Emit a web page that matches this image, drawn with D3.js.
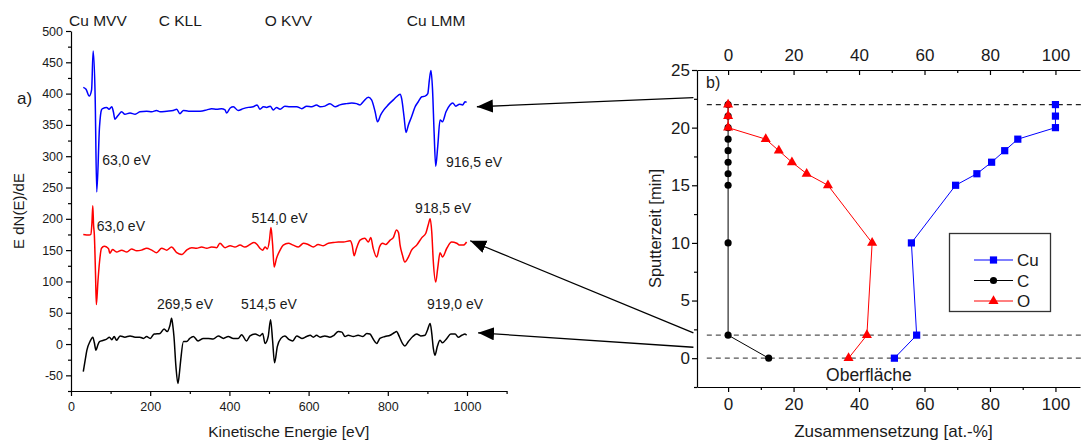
<!DOCTYPE html>
<html><head><meta charset="utf-8">
<script src="https://cdn.jsdelivr.net/npm/d3@7"></script>
<style>
html,body{margin:0;padding:0;background:#fff;}
svg{display:block;font-family:"Liberation Sans",Arial,sans-serif;}
</style></head><body>
<svg id="chart" width="1081" height="442"></svg>
<script>
// ---------- a) AES spectra: [kinetic energy eV, E dN(E)/dE] ----------
const spectrumTop = [[31,410],[38,407],[46,396],[52,406],[56,468],[61,395],[65,243],[72,347],[77,374],[80,376],[90,378],[96,375],[103,379],[107,371],[111,359],[115,362],[120,366],[128,371],[136,367],[149,369],[162,367],[174,371],[191,372],[204,371],[216,373],[225,371],[242,372],[258,373],[267,375],[275,368],[284,373],[297,372],[309,372],[326,372],[343,374],[355,376],[368,375],[380,376],[389,374],[393,369],[402,377],[410,379],[422,373],[435,376],[448,378],[460,379],[470,382],[477,375],[486,379],[494,378],[503,380],[511,374],[519,378],[528,375],[540,380],[553,379],[570,379],[583,376],[595,380],[608,379],[620,382],[629,379],[641,380],[654,384],[667,379],[679,382],[696,384],[709,385],[721,384],[730,382],[738,387],[751,394],[759,390],[768,371],[774,355],[782,366],[790,374],[801,382],[814,390],[822,395],[831,399],[835,392],[841,363],[846,338],[852,350],[860,363],[869,379],[877,387],[886,395],[894,396],[901,400],[905,422],[909,437],[913,406],[917,337],[921,284],[926,315],[932,358],[938,355],[947,371],[957,382],[964,385],[972,380],[981,383],[989,382],[995,387],[999,386]];
const spectrumMid = [[31,175],[46,174],[50,175],[53,195],[55,221],[57,190],[59,174],[62,110],[64,63],[68,100],[72,131],[77,153],[84,156],[90,155],[95,152],[98,145],[105,151],[115,147],[128,150],[141,147],[153,152],[166,149],[178,150],[191,153],[204,150],[216,146],[229,153],[242,150],[254,155],[267,146],[280,143],[292,150],[305,154],[317,153],[330,155],[343,153],[355,155],[368,154],[376,161],[389,154],[402,157],[414,155],[427,158],[439,155],[452,159],[462,162],[470,159],[477,153],[484,150],[490,155],[496,152],[501,165],[505,186],[509,160],[513,123],[519,137],[528,150],[536,158],[549,161],[561,158],[574,155],[587,161],[599,159],[612,155],[624,159],[637,157],[650,161],[662,162],[675,163],[688,163],[705,165],[710,158],[715,141],[721,153],[730,166],[742,169],[751,163],[757,170],[763,153],[772,139],[779,155],[787,161],[795,159],[806,166],[814,170],[822,182],[827,178],[831,158],[837,142],[843,131],[852,139],[860,150],[873,158],[886,170],[896,177],[902,190],[907,200],[911,179],[915,131],[921,99],[926,121],[932,146],[938,139],[949,153],[961,163],[974,161],[982,158],[991,158],[999,163]];
const spectrumLow = [[31,-44],[36,-25],[40,-10],[48,4],[55,11],[59,2],[63,-10],[67,-3],[72,4],[82,6],[90,8],[97,11],[103,7],[109,12],[115,6],[124,13],[136,11],[149,13],[162,11],[174,11],[183,9],[191,12],[200,9],[210,16],[225,17],[235,24],[243,20],[250,30],[254,41],[257,30],[260,12],[265,-36],[270,-63],[274,-45],[277,-26],[284,4],[292,4],[300,9],[309,12],[321,5],[334,9],[347,9],[359,8],[372,13],[385,9],[397,12],[410,9],[422,9],[431,15],[443,5],[452,13],[465,16],[477,13],[484,17],[490,1],[498,12],[504,39],[509,6],[514,-30],[521,-4],[530,9],[540,13],[551,7],[560,5],[570,13],[583,9],[595,12],[604,14],[612,11],[620,14],[629,11],[641,13],[654,11],[664,14],[675,20],[684,19],[692,12],[700,14],[713,12],[725,14],[737,12],[747,17],[755,16],[763,8],[772,1],[780,9],[793,12],[806,14],[816,18],[822,20],[829,12],[837,1],[843,-3],[852,4],[863,12],[873,16],[883,13],[894,14],[900,22],[907,33],[911,17],[915,-7],[919,-18],[925,-4],[932,6],[938,2],[949,9],[959,16],[970,16],[978,11],[987,14],[995,16],[999,14]];
const spectrumColors = ["#0000ff", "#ff0000", "#000000"];

const energyTicks = [0, 200, 400, 600, 800, 1000];
const energyMinor = [100, 300, 500, 700, 900, 1100];
const signalTicks = [-50, 0, 50, 100, 150, 200, 250, 300, 350, 400, 450, 500];
const signalMinor = [-75, -25, 25, 75, 125, 175, 225, 275, 325, 375, 425, 475];

// transition groups written across the top of the spectra
const transitionNames = ["Cu MVV", "C KLL", "O KVV", "Cu LMM"];
const transitionEnergy = [68, 276, 549, 922];

// peak labels: [energy at text start, signal at baseline, text, spectrum index]
const peakLabels = [
  [79, 286, "63,0 eV", 0], [947, 283, "916,5 eV", 0],
  [65, 181, "63,0 eV", 1], [456, 193, "514,0 eV", 1], [869, 209, "918,5 eV", 1],
  [217, 56, "269,5 eV", 2], [429, 56, "514,5 eV", 2], [899, 56, "919,0 eV", 2]
];

// ---------- b) depth profile: sputter time vs. composition ----------
const sputterTime = [0, 2, 10, 15, 16, 17, 18, 19, 20, 21, 22];
const fractionCu = [50.8, 57.6, 56.0, 69.5, 76.0, 80.5, 84.5, 88.5, 100, 100, 100];
const fractionC  = [12.4, 0, 0, 0, 0, 0, 0, 0, 0, 0, 0];
const fractionO  = [36.8, 42.4, 44.0, 30.5, 24.0, 19.5, 15.5, 11.5, 0, 0, 0];
const elementNames = ["Cu", "C", "O"];
const elementColors = ["#0000ff", "#000000", "#ff0000"];

const compTicks = [0, 20, 40, 60, 80, 100];
const compMinor = [10, 30, 50, 70, 90];
const timeTicks = [0, 5, 10, 15, 20, 25];
const timeMinor = [-2.5, 2.5, 7.5, 12.5, 17.5, 22.5];
const markedTimes = [22, 2, 0];

// arrows linking each spectrum to its sputter time: [energy, signal, time]
const links = [[1025, 379, 22.6], [1008, 165, 2.2], [1028, 18, 0.95]];

const svg = d3.select("#chart");
const INK = "#1a1a1a";
const fmt = d => String(d);

function styleAxis(g, fontSize) {
  g.select(".domain").attr("stroke", "#000").attr("stroke-width", 1.2);
  g.selectAll(".tick line").attr("stroke", "#000").attr("stroke-width", 1.2);
  g.selectAll(".tick text").attr("fill", INK).style("font-size", fontSize + "px")
    .style("font-family", '"Liberation Sans", Arial, sans-serif');
}
function minorAxis(axis, transform) {
  const g = svg.append("g").attr("transform", transform).call(axis);
  g.select(".domain").remove();
  g.selectAll(".tick line").attr("stroke", "#000").attr("stroke-width", 1.2);
  g.selectAll(".tick text").remove();
}

// ===== panel a =====
const xA = d3.scaleLinear().domain([0, 1100]).range([71, 506.6]);
const yA = d3.scaleLinear().domain([-75, 500]).range([391, 31]);

const gxA = svg.append("g").attr("transform", "translate(0,391)")
  .call(d3.axisBottom(xA).tickValues(energyTicks).tickSize(5).tickSizeOuter(0).tickPadding(6).tickFormat(fmt));
styleAxis(gxA, 12.5);
minorAxis(d3.axisBottom(xA).tickValues(energyMinor).tickSize(3), "translate(0,391)");

const gyA = svg.append("g").attr("transform", "translate(71,0)")
  .call(d3.axisLeft(yA).tickValues(signalTicks).tickSize(5).tickSizeOuter(0).tickPadding(3).tickFormat(fmt));
styleAxis(gyA, 12.5);
minorAxis(d3.axisLeft(yA).tickValues(signalMinor).tickSize(3), "translate(71,0)");

const lineA = d3.line().x(d => xA(d[0])).y(d => yA(d[1])).curve(d3.curveMonotoneX);
[spectrumTop, spectrumMid, spectrumLow].forEach((s, i) => {
  svg.append("path").datum(s).attr("d", lineA).attr("fill", "none")
    .attr("stroke", spectrumColors[i]).attr("stroke-width", 1.5).attr("stroke-linejoin", "round");
});

svg.selectAll("text.trans").data(transitionNames).join("text").attr("class", "trans")
  .attr("x", (d, i) => xA(transitionEnergy[i])).attr("y", 26).attr("text-anchor", "middle")
  .attr("fill", INK).style("font-size", "15.5px").text(d => d);

svg.selectAll("text.peak").data(peakLabels).join("text").attr("class", "peak")
  .attr("x", d => xA(d[0])).attr("y", d => yA(d[1]))
  .attr("fill", INK).style("font-size", "14px").text(d => d[2]);

svg.append("text").attr("x", 17).attr("y", 104).attr("fill", INK).style("font-size", "17px").text("a)");

svg.append("text").attr("transform", `translate(24,${(31 + 391) / 2}) rotate(-90)`)
  .attr("text-anchor", "middle").attr("fill", INK).style("font-size", "15px").text("E dN(E)/dE");
svg.append("text").attr("x", (xA(0) + xA(1100)) / 2).attr("y", 437).attr("text-anchor", "middle")
  .attr("fill", INK).style("font-size", "15.5px").text("Kinetische Energie [eV]");

// ===== panel b =====
const xB = d3.scaleLinear().domain([-9.5, 107.5]).range([697, 1080]);
const yB = d3.scaleLinear().domain([-2.5, 25]).range([387, 70]);

const gxB = svg.append("g").attr("transform", "translate(0,387)")
  .call(d3.axisBottom(xB).tickValues(compTicks).tickSize(5).tickSizeOuter(0).tickPadding(6).tickFormat(fmt));
styleAxis(gxB, 17);
minorAxis(d3.axisBottom(xB).tickValues(compMinor).tickSize(3), "translate(0,387)");

const gtB = svg.append("g").attr("transform", "translate(0,70)")
  .call(d3.axisTop(xB).tickValues(compTicks).tickSize(-5).tickSizeOuter(0).tickPadding(9).tickFormat(fmt));
styleAxis(gtB, 17);
minorAxis(d3.axisTop(xB).tickValues(compMinor).tickSize(-3), "translate(0,70)");

const gyB = svg.append("g").attr("transform", "translate(697,0)")
  .call(d3.axisLeft(yB).tickValues(timeTicks).tickSize(5).tickSizeOuter(0).tickPadding(2).tickFormat(fmt));
styleAxis(gyB, 17);
minorAxis(d3.axisLeft(yB).tickValues(timeMinor).tickSize(3), "translate(697,0)");

// reference depths
svg.selectAll("line.mark").data(markedTimes).join("line").attr("class", "mark")
  .attr("x1", xB(-6.5)).attr("x2", 1081).attr("y1", d => yB(d)).attr("y2", d => yB(d))
  .attr("stroke", (d, i) => i === 0 ? "#222" : "#555").attr("stroke-width", 1.2)
  .attr("stroke-dasharray", "5,4");

const fractions = [fractionCu, fractionC, fractionO];
const lineB = d3.line().x(d => xB(d[0])).y(d => yB(d[1]));
const symbols = [d3.symbolSquare, d3.symbolCircle, d3.symbolTriangle];
const symbolSizes = [52, 40, 44];

fractions.forEach((f, i) => {
  const pts = f.map((v, k) => [v, sputterTime[k]]);
  svg.append("path").datum(pts).attr("d", lineB).attr("fill", "none")
    .attr("stroke", elementColors[i]).attr("stroke-width", 1);
  svg.append("g").selectAll("path").data(pts).join("path")
    .attr("transform", d => `translate(${xB(d[0])},${yB(d[1])})`)
    .attr("d", d3.symbol(symbols[i], symbolSizes[i])).attr("fill", elementColors[i]);
});

// legend
const lg = svg.append("g");
lg.append("rect").attr("x", 949.5).attr("y", 233.5).attr("width", 101).attr("height", 78)
  .attr("fill", "#fff").attr("stroke", "#333").attr("stroke-width", 1.3);
elementNames.forEach((n, i) => {
  const y = 260 + i * 20.5;
  lg.append("line").attr("x1", 974).attr("x2", 1013).attr("y1", y).attr("y2", y)
    .attr("stroke", elementColors[i]).attr("stroke-width", 1);
  lg.append("path").attr("transform", `translate(993.5,${y})`)
    .attr("d", d3.symbol(symbols[i], symbolSizes[i])).attr("fill", elementColors[i]);
  lg.append("text").attr("x", 1017).attr("y", y + 6).attr("fill", INK)
    .style("font-size", "17px").text(n);
});

svg.append("text").attr("x", 706).attr("y", 88).attr("fill", INK).style("font-size", "16px").text("b)");
svg.append("text").attr("x", xB(43)).attr("y", 381).attr("text-anchor", "middle")
  .attr("fill", INK).style("font-size", "17.5px").text("Oberfläche");

svg.append("text").attr("transform", `translate(661,${(70 + 387) / 2}) rotate(-90)`)
  .attr("text-anchor", "middle").attr("fill", INK).style("font-size", "16.5px").text("Sputterzeit [min]");
svg.append("text").attr("x", xB(50.5)).attr("y", 437).attr("text-anchor", "middle")
  .attr("fill", INK).style("font-size", "17px").text("Zusammensetzung [at.-%]");

// ===== linking arrows =====
svg.append("defs").append("marker").attr("id", "head")
  .attr("markerUnits", "userSpaceOnUse").attr("markerWidth", 18).attr("markerHeight", 14)
  .attr("refX", 16).attr("refY", 6.5).attr("orient", "auto")
  .append("path").attr("d", "M0,0 L16,6.5 L0,13 Z").attr("fill", "#000");

svg.selectAll("line.link").data(links).join("line").attr("class", "link")
  .attr("x1", xB(-10.6)).attr("y1", d => yB(d[2]))
  .attr("x2", d => xA(d[0])).attr("y2", d => yA(d[1]))
  .attr("stroke", "#000").attr("stroke-width", 1.3).attr("marker-end", "url(#head)");
</script></body></html>
